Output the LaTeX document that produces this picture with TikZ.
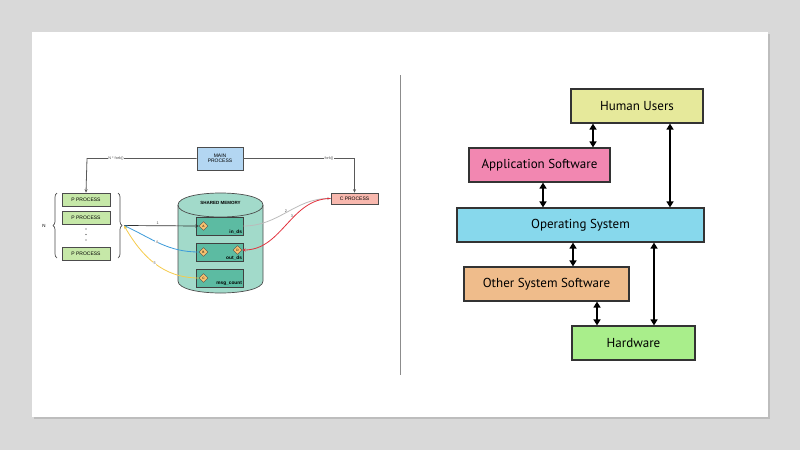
\documentclass[tikz,border=0pt]{standalone}
\usepackage{fontspec}
\setmainfont{Liberation Sans}
\newfontfamily\osfont{PT Sans}
\usetikzlibrary{arrows.meta,shapes.geometric,decorations.pathreplacing}
\definecolor{bgc}{HTML}{D9D9D9}
\definecolor{shadowc}{HTML}{BDBDBD}
\definecolor{mainc}{HTML}{B3D6F2}
\definecolor{cpc}{HTML}{F8B8AE}
\definecolor{ppc}{HTML}{C6E8A8}
\definecolor{cylc}{HTML}{A2DACA}
\definecolor{innc}{HTML}{5CBBA2}
\definecolor{diac}{HTML}{F9C270}
\definecolor{bluec}{HTML}{3C9BDA}
\definecolor{yelc}{HTML}{F6CB4A}
\definecolor{redc}{HTML}{E2303C}
\definecolor{grayc}{HTML}{BBBBBB}
\definecolor{huc}{HTML}{E6E99B}
\definecolor{appc}{HTML}{F287B1}
\definecolor{osc}{HTML}{87D8EC}
\definecolor{ossc}{HTML}{EFBC8B}
\definecolor{hwc}{HTML}{A9EE8B}
\tikzset{
  smallbox/.style={draw=black!70, line width=0.7pt, inner sep=0pt, align=center, font=\fontsize{5}{5.6}\selectfont},
  innerbox/.style={draw=black!75, line width=0.7pt, fill=innc, minimum width=47pt, minimum height=18pt, inner sep=0pt},
  dia/.style={diamond, draw=black!70, line width=0.4pt, fill=diac, minimum size=9pt, inner sep=0pt, font=\fontsize{3.2}{3.2}\selectfont},
  tiny/.style={font=\fontsize{3.8}{4}\selectfont, text=black!70, inner sep=0.5pt},
  bigbox/.style={draw=black!80, line width=1.2pt, inner sep=0pt, minimum height=34pt, font=\osfont\fontsize{13}{15}\selectfont},
  dbl/.style={line width=1.5pt, {Triangle[length=6pt,width=7pt]}-{Triangle[length=6pt,width=7pt]}},
  sarrow/.style={-{Stealth[length=3.5pt,width=3pt]}}
}
\begin{document}
\begin{tikzpicture}[x=1pt,y=-1pt]
\useasboundingbox (0,0) rectangle (800,450);
\fill[bgc] (0,0) rectangle (800,450);
\fill[shadowc] (34,34) rectangle (770,419);
\fill[white] (32,32) rectangle (768,417);
\draw[black!45, line width=0.8pt] (400,75) -- (400,375);

% ---------- left diagram ----------
\node[smallbox, fill=mainc, minimum width=46pt, minimum height=23pt] (main) at (220,158.5) {MAIN\\PROCESS};
\node[smallbox, fill=cpc, minimum width=47pt, minimum height=11pt] (cp) at (354.5,198.5) {C PROCESS};
\node[smallbox, fill=ppc, minimum width=48pt, minimum height=13pt] (p1) at (86,199.5) {P PROCESS};
\node[smallbox, fill=ppc, minimum width=48pt, minimum height=13pt] (p2) at (86,217.5) {P PROCESS};
\node[smallbox, fill=ppc, minimum width=48pt, minimum height=13pt] (p3) at (86,253.5) {P PROCESS};
\foreach \yy in {229,234.5,240} \fill[black!80] (86,\yy) circle (0.7pt);

\draw[black!65, line width=0.8pt, sarrow] (main.west) -- (87,158.5) -- (p1.north);
\draw[black!65, line width=0.8pt, sarrow] (main.east) -- (354.5,158.5) -- (cp.north);
\node[tiny, fill=white] (lfork) at (116,158.5) {N * fork()};
\node[tiny, fill=white] (rfork) at (329,158.5) {fork()};

\draw[black!70, line width=0.7pt, decorate, decoration={brace, amplitude=4pt}] (57,258) -- (57,193);
\draw[black!70, line width=0.7pt, decorate, decoration={brace, amplitude=4pt}] (118,193) -- (118,258);
\node[font=\fontsize{4.5}{5}\selectfont, inner sep=0pt] (nlab) at (44,225.5) {N};
\coordinate (btip) at (124,225.5);

% cylinder
\draw[black!70, line width=0.7pt, fill=cylc] (178,205) -- (178,281) .. controls (178,297) and (263,297) .. (263,281) -- (263,205) .. controls (263,189) and (178,189) .. (178,205) -- cycle;
\draw[black!70, line width=0.7pt] (178,205) .. controls (178,221) and (263,221) .. (263,205);
\node[font=\bfseries\fontsize{4.5}{5}\selectfont, inner sep=0pt] (shm) at (220.5,203) {SHARED MEMORY};

\node[innerbox] (ind) at (219.5,226) {};
\node[innerbox] (outd) at (219.5,252) {};
\node[innerbox] (msg) at (219.5,278) {};
\node[font=\bfseries\fontsize{4.8}{5}\selectfont, anchor=south east, inner sep=1.2pt] at (ind.south east) {in\_ds};
\node[font=\bfseries\fontsize{4.8}{5}\selectfont, anchor=south east, inner sep=1.2pt] at (outd.south east) {out\_ds};
\node[font=\bfseries\fontsize{4.8}{5}\selectfont, anchor=south east, inner sep=1.2pt] at (msg.south east) {msg\_count};
\node[dia] (dA) at (203.5,226) {A};
\node[dia] (dB) at (203.5,252) {B};
\node[dia] (dD) at (237.5,250) {D};
\node[dia] (dC) at (203.5,278) {C};

% connectors
\draw[black!80, line width=0.7pt, sarrow] (btip) -- node[tiny, pos=0.45, above=0.2pt] {1} (dA.west);
\draw[bluec, line width=0.8pt, sarrow] (dB.west) to[out=180,in=-25] node[tiny, pos=0.55, fill=white] {4} (btip);
\draw[yelc, line width=0.8pt, sarrow] (dC.west) to[out=180,in=-60] node[tiny, pos=0.5, fill=white] {5} (btip);
\draw[grayc, line width=0.8pt, sarrow] (ind.east) to[out=0,in=180] node[tiny, pos=0.5, above left=-1pt] {2} (cp.west);
\draw[redc, line width=0.8pt, sarrow] (cp.west) to[out=180,in=0] node[tiny, pos=0.4, left=0pt] {3} (dD.east);

% ---------- right diagram ----------
\node[bigbox, fill=huc, minimum width=132pt] (hu) at (637,106) {Human Users};
\node[bigbox, fill=appc, minimum width=141pt] (app) at (539.5,165) {Application Software};
\node[bigbox, fill=osc, minimum width=247pt] (os) at (580.5,225) {Operating System};
\node[bigbox, fill=ossc, minimum width=165pt] (oss) at (546.5,284) {Other System Software};
\node[bigbox, fill=hwc, minimum width=123pt] (hw) at (633.5,343) {Hardware};

\draw[dbl] (593,0 |- hu.south) -- (593,0 |- app.north);
\draw[dbl] (670,0 |- hu.south) -- (670,0 |- os.north);
\draw[dbl] (543,0 |- app.south) -- (543,0 |- os.north);
\draw[dbl] (573,0 |- os.south) -- (573,0 |- oss.north);
\draw[dbl] (654,0 |- os.south) -- (654,0 |- hw.north);
\draw[dbl] (597,0 |- oss.south) -- (597,0 |- hw.north);
\end{tikzpicture}
\end{document}
